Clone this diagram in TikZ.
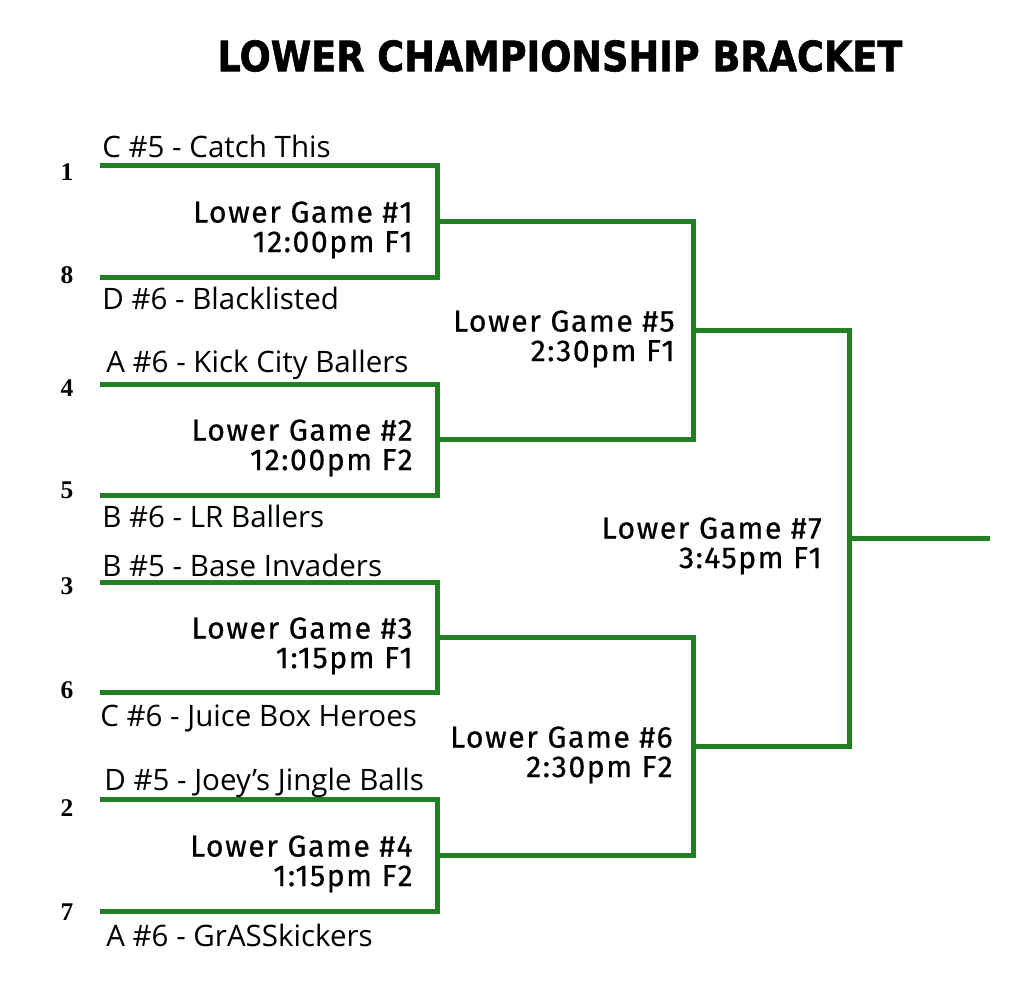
\documentclass[tikz,border=0pt]{standalone}
\usepackage{graphicx}
\usepackage{fontspec}
\setmainfont{Open Sans}
\newfontfamily\gamefont[LetterSpace=5,FakeBold=0.6]{Fira Sans}
\newfontfamily\seedfont{Liberation Serif}
\newfontfamily\titlefont[FakeBold=1.5]{DejaVu Sans}
\usetikzlibrary{positioning}
\definecolor{bracketgreen}{RGB}{34,128,34}

\begin{document}
\begin{tikzpicture}[x=0.02cm,y=-0.02cm,
  bracket/.style={bracketgreen,line width=0.1cm},
  team/.style={anchor=base west,inner sep=0pt,font=\fontsize{16.8}{18}\selectfont},
  game/.style={anchor=north east,inner sep=0pt,align=right,font=\gamefont\fontsize{17.2}{16.8}\selectfont},
  seed/.style={inner sep=0pt,font=\seedfont\bfseries\fontsize{14.5}{16}\selectfont}]
\useasboundingbox (0,0) rectangle (1024,985);

\node (title) at (560,56) {\resizebox{13.7cm}{0.62cm}{\titlefont\bfseries LOWER CHAMPIONSHIP BRACKET}};

\coordinate (s1) at (100,165);
\coordinate (s8) at (100,277);
\coordinate (s4) at (100,384);
\coordinate (s5) at (100,495);
\coordinate (s3) at (100,582);
\coordinate (s6) at (100,692);
\coordinate (s2) at (100,799);
\coordinate (s7) at (100,911);
\coordinate (g1) at (437,221);
\coordinate (g2) at (437,439);
\coordinate (g3) at (437,637);
\coordinate (g4) at (437,855);
\coordinate (g5) at (693,330);
\coordinate (g6) at (693,746);
\coordinate (g7) at (849,538);
\coordinate (champ) at (990,538);

\draw[bracket] (s1) -| (g1) |- (s8);
\draw[bracket] (s4) -| (g2) |- (s5);
\draw[bracket] (s3) -| (g3) |- (s6);
\draw[bracket] (s2) -| (g4) |- (s7);
\draw[bracket] (g1) -| (g5) |- (g2);
\draw[bracket] (g3) -| (g6) |- (g4);
\draw[bracket] (g5) -| (g7) |- (g6);
\draw[bracket] (g7) -- (champ);

\node[seed] (n1) at (67,172) {1};
\node[seed] (n8) at (67,275) {8};
\node[seed] (n4) at (67,388) {4};
\node[seed] (n5) at (67,490) {5};
\node[seed] (n3) at (67,586) {3};
\node[seed] (n6) at (67,690) {6};
\node[seed] (n2) at (67,808) {2};
\node[seed] (n7) at (67,912) {7};

\node[team] (catch) at (102,157) {C \#5 - Catch This};
\node[team] (black) at (102,309) {D \#6 - Blacklisted};
\node[team] (kick) at (106,372) {A \#6 - Kick City Ballers};
\node[team] (lr) at (102,527) {B \#6 - LR Ballers};
\node[team] (base) at (102,576) {B \#5 - Base Invaders};
\node[team] (juice) at (100,726) {C \#6 - Juice Box Heroes};
\node[team] (joey) at (104,790) {D \#5 - Joey’s Jingle Balls};
\node[team] (grass) at (106,946) {A \#6 - GrASSkickers};

\node[game] (lg1) at (413,201) {Lower Game \#1\\12:00pm F1};
\node[game] (lg2) at (413,419) {Lower Game \#2\\12:00pm F2};
\node[game] (lg3) at (413,617) {Lower Game \#3\\1:15pm F1};
\node[game] (lg4) at (413,835) {Lower Game \#4\\1:15pm F2};
\node[game] (lg5) at (675,310) {Lower Game \#5\\2:30pm F1};
\node[game] (lg6) at (673,726) {Lower Game \#6\\2:30pm F2};
\node[game] (lg7) at (822,517) {Lower Game \#7\\3:45pm F1};
\end{tikzpicture}
\end{document}
